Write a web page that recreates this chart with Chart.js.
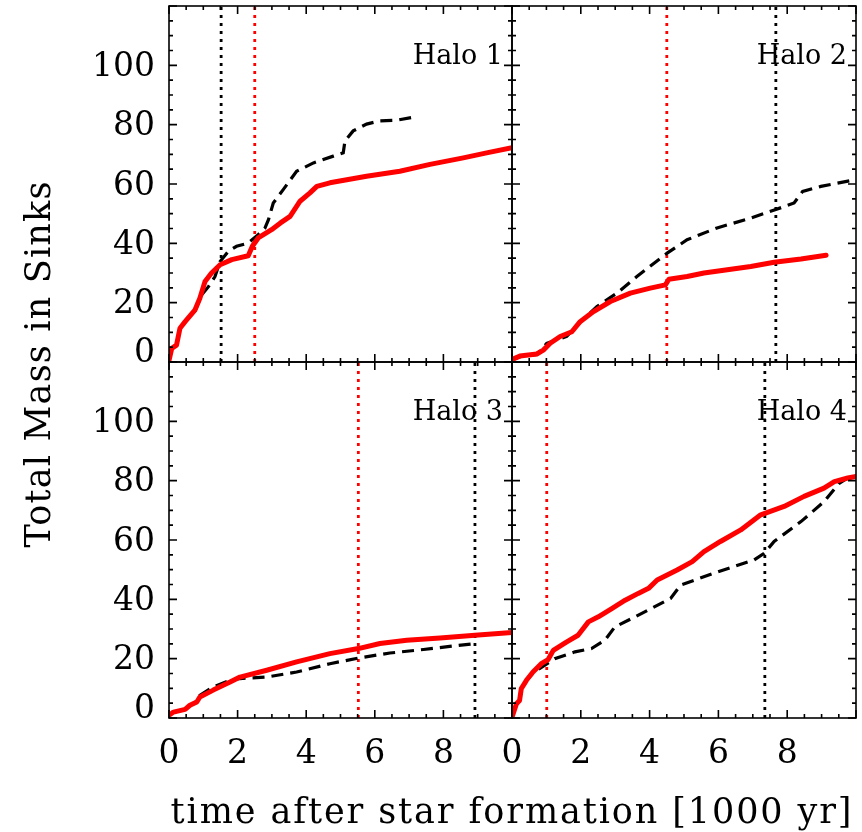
<!DOCTYPE html>
<html>
<head>
<meta charset="utf-8">
<script src="https://cdn.jsdelivr.net/npm/chart.js@4"></script>
<style>
  html, body { margin: 0; padding: 0; background: #fff; }
  #wrap { position: relative; width: 862px; height: 832px; background: #fff; }
  #wrap canvas { position: absolute; left: 0; top: 0; }
</style>
</head>
<body>
<div id="wrap">
  <canvas id="c1" width="862" height="832"></canvas>
  <canvas id="c2" width="862" height="832"></canvas>
  <canvas id="c3" width="862" height="832"></canvas>
  <canvas id="c4" width="862" height="832"></canvas>
</div>
<script>
// ---------------- data ----------------
const haloNames = ['Halo 1', 'Halo 2', 'Halo 3', 'Halo 4'];
const xTickLabels = ['0', '2', '4', '6', '8'];
const yTickLabels = ['0', '20', '40', '60', '80', '100'];
const xTitle = 'time after star formation [1000 yr]';
const yTitle = 'Total Mass in Sinks';

// Halo 1
const h1RedTime  = [0, 0.08, 0.22, 0.32, 0.47, 0.76, 0.9, 1.05, 1.24, 1.49, 1.83, 2.31, 2.43, 2.6, 2.99, 3.24, 3.53, 3.82, 4.11, 4.31, 4.69, 5.76, 6.73, 7.61, 8.58, 9.26, 10];
const h1RedMass  = [0.5, 4.6, 5.7, 11.4, 13.6, 17.6, 21.5, 27.1, 30, 32.8, 34.5, 35.8, 39, 41.8, 44.6, 46.8, 49.1, 54.2, 57, 59.2, 60.4, 62.6, 64.3, 66.6, 68.8, 70.5, 72.2];
const h1BlackTime = [0, 0.08, 0.22, 0.32, 0.47, 0.76, 0.95, 1.15, 1.34, 1.49, 1.73, 1.97, 2.31, 2.6, 2.8, 2.9, 3.04, 3.33, 3.72, 4.21, 4.79, 5.08, 5.13, 5.37, 5.76, 6.15, 6.64, 7.07];
const h1BlackMass = [0.5, 4.6, 5.7, 11.4, 13.6, 17.2, 22.6, 25.4, 28.8, 33.9, 37.3, 39, 40.1, 42.9, 45.2, 48, 53.6, 58.1, 64.3, 67.1, 69.4, 70.5, 74.5, 77.9, 80.2, 81.3, 81.5, 82.4];

// Halo 2
const h2RedTime  = [0, 0.23, 0.72, 0.91, 1.11, 1.4, 1.74, 1.98, 2.37, 2.86, 3.44, 4.02, 4.46, 4.56, 5.09, 5.58, 6.26, 6.94, 7.62, 8.4, 9.13];
const h2RedMass  = [0.9, 2, 2.7, 4, 6.3, 8.6, 10.2, 13.6, 17, 20.4, 23.2, 24.9, 26, 27.9, 28.8, 30, 31.1, 32.2, 33.6, 34.7, 36];
const h2BlackTime = [0, 0.23, 0.72, 1.01, 1.59, 2.0, 2.47, 3.05, 3.63, 4.51, 5.09, 5.96, 6.94, 7.67, 8.2, 8.45, 8.98, 10];
const h2BlackMass = [0.7, 1.8, 2.5, 6.3, 8.6, 13.6, 18.7, 23.2, 28.8, 36.7, 41.2, 45.2, 48.5, 51.4, 53.6, 57.5, 59.2, 61.5];

// Halo 3
const h3RedTime  = [0, 0.13, 0.47, 0.61, 0.81, 0.9, 1.29, 1.78, 2.07, 2.85, 3.72, 4.69, 5.52, 6.15, 6.93, 7.9, 8.92, 10];
const h3RedMass  = [0.9, 2, 2.9, 4.3, 5.4, 7.1, 9.4, 12.1, 13.8, 16.1, 18.9, 21.7, 23.4, 25.1, 26.2, 27, 27.9, 28.8];
const h3BlackTime = [0, 0.13, 0.47, 0.61, 0.81, 0.9, 1.29, 1.78, 2.07, 2.85, 3.72, 4.69, 5.52, 6.44, 7.42, 8.92];
const h3BlackMass = [0.9, 2, 2.9, 4.3, 5.6, 7.6, 10.5, 12.7, 13.3, 13.8, 15.5, 18.3, 20.2, 21.9, 23.1, 25.1];

// Halo 4
const h4RedTime  = [0, 0.13, 0.22, 0.27, 0.42, 0.61, 0.85, 1.05, 1.2, 1.58, 1.92, 2.22, 2.51, 2.9, 3.29, 3.67, 3.97, 4.22, 4.8, 5.24, 5.58, 6.06, 6.65, 7.23, 7.91, 8.49, 9.07, 9.37, 9.76, 10];
const h4RedMass  = [0.3, 4.8, 5.9, 9.9, 12.7, 15.5, 18.3, 19.7, 22.8, 25.6, 27.9, 32.4, 34.1, 36.9, 39.7, 42, 43.7, 46.5, 49.9, 52.7, 56.1, 59.5, 63.4, 68.5, 71.3, 74.7, 77.5, 79.7, 80.9, 81.4];
const h4BlackTime = [0, 0.13, 0.22, 0.27, 0.42, 0.61, 0.81, 1.24, 1.83, 2.31, 2.7, 2.99, 3.58, 4.61, 4.9, 5.87, 7.04, 7.33, 7.62, 8.4, 9.07, 9.51, 9.7];
const h4BlackMass = [0.3, 4.8, 5.9, 9.9, 12.7, 15.2, 16.7, 20, 22.3, 23.4, 26.2, 30.7, 34.1, 40.3, 44.8, 48.8, 53.3, 55.5, 59.5, 66.2, 72.9, 79.1, 80.5];

// vertical dotted markers (time, 1000 yr)
const redMarkers   = [2.5, 4.5, 5.52, 1.01];
const blackMarkers = [1.52, 7.67, 8.92, 7.35];

// axis ranges
const xMin = 0, xMax = 10, yMin = 0, yMax = 120;

// ---------------- layout ----------------
const W = 862, H = 832;
const colEdges = [169, 512, 856];
const rowEdges = [6, 362, 718];
const YAXIS_W = 90, XAXIS_H = 70;
const FONT = '"DejaVu Serif", "Liberation Serif", serif';

const redTimes = [h1RedTime, h2RedTime, h3RedTime, h4RedTime];
const redMasses = [h1RedMass, h2RedMass, h3RedMass, h4RedMass];
const blackTimes = [h1BlackTime, h2BlackTime, h3BlackTime, h4BlackTime];
const blackMasses = [h1BlackMass, h2BlackMass, h3BlackMass, h4BlackMass];

function pts(xs, ys) { return xs.map((x, i) => ({ x: x, y: ys[i] })); }

const frame = {
  id: 'frame',
  afterDraw(chart, args, opts) {
    const { ctx, chartArea: a, scales: { x, y } } = chart;
    ctx.save();
    ctx.strokeStyle = '#000';
    ctx.lineWidth = 1.6;
    ctx.strokeRect(a.left, a.top, a.right - a.left, a.bottom - a.top);
    ctx.beginPath();
    x.ticks.forEach(t => {
      const px = x.getPixelForValue(t.value);
      const major = Math.abs(t.value / 2 - Math.round(t.value / 2)) < 1e-6;
      const len = major ? 8 : 4;
      ctx.moveTo(px, a.bottom); ctx.lineTo(px, a.bottom - len);
      ctx.moveTo(px, a.top); ctx.lineTo(px, a.top + len);
    });
    y.ticks.forEach(t => {
      const py = y.getPixelForValue(t.value);
      const major = Math.abs(t.value / 20 - Math.round(t.value / 20)) < 1e-6;
      const len = major ? 8 : 4;
      ctx.moveTo(a.left, py); ctx.lineTo(a.left + len, py);
      ctx.moveTo(a.right, py); ctx.lineTo(a.right - len, py);
    });
    ctx.stroke();
    // halo label
    ctx.fillStyle = '#000';
    ctx.font = '27px ' + FONT;
    ctx.textAlign = 'right';
    ctx.textBaseline = 'middle';
    ctx.fillText(opts.label, a.right - 9, a.top + 51);
    // axis titles (drawn once)
    if (opts.titles) {
      ctx.font = '35px ' + FONT;
      ctx.textAlign = 'center';
      ctx.textBaseline = 'alphabetic';
      ctx.letterSpacing = '1.9px';
      ctx.fillText(xTitle, 512, 823);
      ctx.letterSpacing = '1.2px';
      ctx.save();
      ctx.translate(50, 364);
      ctx.rotate(-Math.PI / 2);
      ctx.fillText(yTitle, 0, 0);
      ctx.restore();
      ctx.letterSpacing = '0px';
    }
    ctx.restore();
  }
};

for (let i = 0; i < 4; i++) {
  const col = i % 2, row = Math.floor(i / 2);
  const L = colEdges[col], R = colEdges[col + 1];
  const T = rowEdges[row], B = rowEdges[row + 1];
  const showX = row === 1, showY = col === 0;
  const xh = showX ? XAXIS_H : 0;

  const datasets = [
    { data: pts(redTimes[i], redMasses[i]), borderColor: '#ff0000', borderWidth: 5, pointRadius: 0, tension: 0, fill: false, borderCapStyle: 'round', borderJoinStyle: 'round' },
    { data: pts(blackTimes[i], blackMasses[i]), borderColor: '#000000', borderWidth: 3.2, borderDash: [12, 7], pointRadius: 0, tension: 0, fill: false },
    { data: pts([redMarkers[i], redMarkers[i]], [yMin, yMax]), borderColor: '#ff0000', borderWidth: 2.8, borderDash: [3, 5], pointRadius: 0, fill: false },
    { data: pts([blackMarkers[i], blackMarkers[i]], [yMin, yMax]), borderColor: '#000000', borderWidth: 2.8, borderDash: [3, 5], pointRadius: 0, fill: false }
  ];

  new Chart(document.getElementById('c' + (i + 1)), {
    type: 'line',
    data: { datasets },
    plugins: [frame],
    options: {
      responsive: false,
      animation: false,
      devicePixelRatio: 1,
      layout: { padding: { left: L - YAXIS_W, right: W - R, top: T, bottom: H - B - xh } },
      plugins: {
        legend: { display: false },
        tooltip: { enabled: false },
        frame: { label: haloNames[i], titles: i === 0 }
      },
      scales: {
        x: {
          type: 'linear', min: xMin, max: xMax,
          afterFit: s => { s.height = xh; s.paddingLeft = 0; s.paddingRight = 0; s.paddingTop = 0; s.paddingBottom = 0; },
          grid: { display: false, drawTicks: false },
          border: { display: false },
          ticks: {
            display: showX, stepSize: 0.5, autoSkip: false, maxRotation: 0, minRotation: 0,
            padding: 17, color: '#000',
            font: { family: FONT, size: 33 },
            callback: v => {
              const lbl = String(v);
              return xTickLabels.includes(lbl) ? lbl : '';
            }
          }
        },
        y: {
          type: 'linear', min: yMin, max: yMax,
          afterFit: s => { s.width = YAXIS_W; s.paddingLeft = 0; s.paddingRight = 0; s.paddingTop = 0; s.paddingBottom = 0; },
          grid: { display: false, drawTicks: false },
          border: { display: false },
          ticks: {
            display: showY, stepSize: 5, autoSkip: false,
            padding: 14, color: '#000', labelOffset: 2,
            font: ctx => ({ family: FONT, size: 33, lineHeight: (ctx.tick && ctx.tick.value === 0) ? '22px' : 1.2 }),
            callback: v => {
              const lbl = String(v);
              if (!yTickLabels.includes(lbl)) return '';
              return v === 0 ? [lbl, ''] : lbl;
            }
          }
        }
      }
    }
  });
}
</script>
</body>
</html>
